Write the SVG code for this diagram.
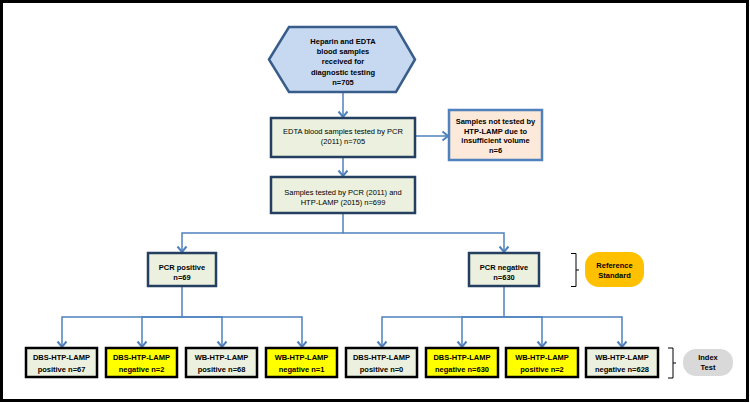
<svg xmlns="http://www.w3.org/2000/svg" width="750" height="403" viewBox="0 0 750 403">
<defs>
<style>
.t{font-family:"Liberation Sans",Arial,sans-serif;font-size:7.5px;text-anchor:middle;fill:#000}
.b{font-weight:bold}
.box{fill:#EBF1DE;stroke:#243F60;stroke-width:2.5}
.res{stroke:#000;stroke-width:2.5}
.g{fill:#EBF1DE}
.y{fill:#FFFF00}
.c{fill:none;stroke:#4F81BD;stroke-width:1.5}
.br{fill:none;stroke:#000;stroke-width:1}
</style>
<marker id="ah" markerUnits="userSpaceOnUse" markerWidth="12" markerHeight="12" viewBox="-7 -6 8 12" refX="0" refY="0" orient="auto">
<path d="M-5.5,-4.5 L0,0 L-5.5,4.5" fill="none" stroke="#4F81BD" stroke-width="2"/>
</marker>
</defs>
<rect x="0" y="0" width="750" height="403" fill="#fff"/>
<rect x="1.5" y="1.5" width="746" height="399" fill="none" stroke="#000" stroke-width="3"/>

<g id="connectors">
<line class="c" x1="343" y1="92" x2="343" y2="117" marker-end="url(#ah)"/>
<line class="c" x1="415" y1="136" x2="448" y2="136" marker-end="url(#ah)"/>
<line class="c" x1="343" y1="157" x2="343" y2="176" marker-end="url(#ah)"/>
<polyline class="c" points="343,213 343,233 182,233 182,252" marker-end="url(#ah)"/>
<polyline class="c" points="343,233 504,233 504,252" marker-end="url(#ah)"/>
<polyline class="c" points="182,286 182,317 62,317 62,347" marker-end="url(#ah)"/>
<polyline class="c" points="182,317 142,317 142,347" marker-end="url(#ah)"/>
<polyline class="c" points="182,317 222,317 222,347" marker-end="url(#ah)"/>
<polyline class="c" points="182,317 302,317 302,347" marker-end="url(#ah)"/>
<polyline class="c" points="504,286 504,317 382,317 382,347" marker-end="url(#ah)"/>
<polyline class="c" points="504,317 462,317 462,347" marker-end="url(#ah)"/>
<polyline class="c" points="504,317 542,317 542,347" marker-end="url(#ah)"/>
<polyline class="c" points="504,317 622,317 622,347" marker-end="url(#ah)"/>
</g>

<g id="start">
<polygon points="269,59.5 289,27 396,27 415,59.5 396,92 289,92" fill="#C6D9F1" stroke="#385D8A" stroke-width="2.5"/>
<text class="t b" x="343" y="44">Heparin and EDTA</text>
<text class="t b" x="343" y="54.2">blood samples</text>
<text class="t b" x="343" y="64.4">received for</text>
<text class="t b" x="343" y="74.6">diagnostic testing</text>
<text class="t b" x="343" y="84.8">n=705</text>
</g>

<g id="edta">
<rect class="box" x="271" y="118" width="144" height="39"/>
<text class="t" x="343" y="134">EDTA blood samples tested by PCR</text>
<text class="t" x="343" y="144">(2011) n=705</text>
</g>

<g id="excluded">
<rect x="449" y="110" width="93" height="50" fill="#FDE9D9" stroke="#4F81BD" stroke-width="2.5"/>
<text class="t b" x="495.5" y="124">Samples not tested by</text>
<text class="t b" x="495.5" y="133.5">HTP-LAMP due to</text>
<text class="t b" x="495.5" y="143">insufficient volume</text>
<text class="t b" x="495.5" y="152.5">n=6</text>
</g>

<g id="both">
<rect class="box" x="271" y="177" width="144" height="36"/>
<text class="t" x="343" y="195">Samples tested by PCR (2011) and</text>
<text class="t" x="343" y="204.5">HTP-LAMP (2015) n=699</text>
</g>

<g id="pcrpos">
<rect class="box" x="148" y="253" width="68" height="33"/>
<text class="t b" x="182" y="270">PCR positive</text>
<text class="t b" x="182" y="280">n=69</text>
</g>

<g id="pcrneg">
<rect class="box" x="469" y="253" width="70" height="33"/>
<text class="t b" x="504" y="270">PCR negative</text>
<text class="t b" x="504" y="280">n=630</text>
</g>

<g id="refstd">
<path class="br" d="M571,253.5 H576 V286.5 H571 M576,270 H579"/>
<rect x="585" y="252" width="59" height="35" rx="14" ry="14" fill="#FFC000"/>
<text class="t b" x="614.5" y="268">Reference</text>
<text class="t b" x="614.5" y="278">Standard</text>
</g>

<g id="r1">
<rect class="res g" x="26" y="348" width="71" height="29"/>
<text class="t b" x="61.5" y="360">DBS-HTP-LAMP</text>
<text class="t b" x="61.5" y="371.5">positive n=67</text>
</g>
<g id="r2">
<rect class="res y" x="106" y="348" width="71" height="29"/>
<text class="t b" x="141.5" y="360">DBS-HTP-LAMP</text>
<text class="t b" x="141.5" y="371.5">negative n=2</text>
</g>
<g id="r3">
<rect class="res g" x="186" y="348" width="71" height="29"/>
<text class="t b" x="221.5" y="360">WB-HTP-LAMP</text>
<text class="t b" x="221.5" y="371.5">positive n=68</text>
</g>
<g id="r4">
<rect class="res y" x="266" y="348" width="71" height="29"/>
<text class="t b" x="301.5" y="360">WB-HTP-LAMP</text>
<text class="t b" x="301.5" y="371.5">negative n=1</text>
</g>
<g id="r5">
<rect class="res g" x="346" y="348" width="71" height="29"/>
<text class="t b" x="381.5" y="360">DBS-HTP-LAMP</text>
<text class="t b" x="381.5" y="371.5">positive n=0</text>
</g>
<g id="r6">
<rect class="res y" x="426" y="348" width="72" height="29"/>
<text class="t b" x="462" y="360">DBS-HTP-LAMP</text>
<text class="t b" x="462" y="371.5">negative n=630</text>
</g>
<g id="r7">
<rect class="res y" x="506" y="348" width="72" height="29"/>
<text class="t b" x="542" y="360">WB-HTP-LAMP</text>
<text class="t b" x="542" y="371.5">positive n=2</text>
</g>
<g id="r8">
<rect class="res g" x="586" y="348" width="72" height="29"/>
<text class="t b" x="622" y="360">WB-HTP-LAMP</text>
<text class="t b" x="622" y="371.5">negative n=628</text>
</g>

<g id="index">
<path class="br" d="M668,348 H673 V378 H668 M673,363 H676"/>
<rect x="683" y="349" width="50" height="27" rx="13" ry="13" fill="#D9D9D9"/>
<text class="t b" x="708" y="359.5">Index</text>
<text class="t b" x="708" y="370">Test</text>
</g>
</svg>
